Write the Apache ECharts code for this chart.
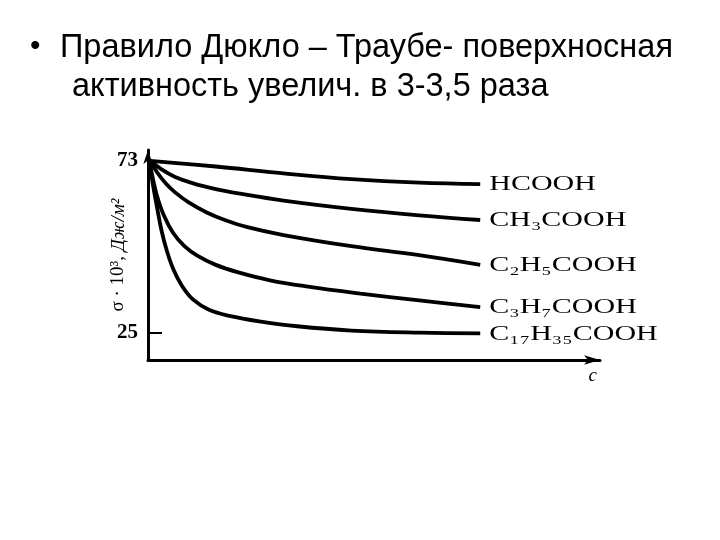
<!DOCTYPE html>
<html>
<head>
<meta charset="utf-8">
<script src="https://cdn.jsdelivr.net/npm/echarts@6/dist/echarts.min.js"></script>
<style>
html,body{margin:0;padding:0;background:#fff;}
#chart{width:720px;height:540px;}
</style>
</head>
<body>
<div id="chart"></div>
<script>
// ---- data ----
const titleLine1 = 'Правило Дюкло – Траубе- поверхносная';
const titleLine2 = 'активность увелич. в 3-3,5 раза';
const yAxisName = ['σ · 10³, ', 'Дж/м²'];
const xAxisName = 'c';
const seriesNames = ['HCOOH', 'CH₃COOH', 'C₂H₅COOH', 'C₃H₇COOH', 'C₁₇H₃₅COOH'];
const yTickLabels = [25, 73];
const yTickMarks = [25];
const hcooh = [[0.5,73],[15,71.4],[30,69.5],[45,67.9],[60,66.9],[73.5,66.5]];
const ch3cooh = [[0.5,73],[3,70.6],[6,68.5],[10,66.7],[15,65.1],[20,63.9],[30,61.9],[45,59.6],[60,57.8],[73.5,56.5]];
const c2h5cooh = [[0.5,73],[2,69.8],[4,66.6],[6,64.2],[9,61.4],[13,58.6],[17,56.5],[22,54.5],[30,52.3],[45,49.2],[60,46.7],[73.5,44.0]];
const c3h7cooh = [[0.3,73],[1,68.5],[2,63.2],[3.5,57.8],[5.5,53.0],[8,49.3],[11,46.5],[15,44.0],[20,41.9],[27,39.7],[35,38.0],[47,36.0],[60,34.1],[73.5,32.2]];
const c17h35cooh = [[0.3,73],[1,67],[2,60],[3,53.5],[4.2,47.8],[5.6,42.8],[7.5,38.2],[10,34.3],[13.5,31.5],[18,29.8],[25,28.2],[33,26.9],[45,25.7],[60,25.1],[73.5,24.9]];
const seriesData = [hcooh, ch3cooh, c2h5cooh, c3h7cooh, c17h35cooh];

const serif = "'Liberation Serif', 'DejaVu Serif', serif";
const sans = "'Liberation Sans', Arial, sans-serif";

const chart = echarts.init(document.getElementById('chart'));
const option = {
  animation: false,
  backgroundColor: '#fff',
  title: [
    {text: '•', left: 30, top: 32, padding: 0, textStyle: {fontFamily: sans, fontSize: 30, fontWeight: 'normal', color: '#000'}},
    {text: titleLine1, left: 60, top: 32, padding: 0, textStyle: {fontFamily: sans, fontSize: 32.5, fontWeight: 'normal', color: '#000'}},
    {text: titleLine2, left: 72, top: 71, padding: 0, textStyle: {fontFamily: sans, fontSize: 32.5, fontWeight: 'normal', color: '#000'}}
  ],
  grid: {left: 148, top: 150, right: 120, bottom: 180},
  xAxis: {
    type: 'value', min: 0, max: 100,
    axisLine: {show: true, symbol: ['none', 'arrow'], symbolSize: [7, 16], lineStyle: {color: '#000', width: 3}},
    axisTick: {show: false}, axisLabel: {show: false}, splitLine: {show: false},
    name: xAxisName, nameLocation: 'end', nameGap: -3,
    nameTextStyle: {fontFamily: serif, fontStyle: 'italic', fontSize: 19, color: '#000', verticalAlign: 'top', align: 'right', padding: [6, 0, 0, 0]}
  },
  yAxis: {
    type: 'value', min: 17.5, max: 76,
    axisLine: {show: true, symbol: ['none', 'arrow'], symbolSize: [7, 14], lineStyle: {color: '#000', width: 3}},
    axisTick: {show: true, inside: true, length: 14, customValues: yTickMarks, lineStyle: {color: '#000', width: 2}},
    axisLabel: {show: true, customValues: yTickLabels, margin: 10, fontFamily: serif, fontSize: 21, fontWeight: 'bold', color: '#000'},
    splitLine: {show: false},
    name: '{a|' + yAxisName[0] + '}{b|' + yAxisName[1] + '}',
    nameLocation: 'middle', nameRotate: 90, nameGap: 20, nameMoveOverlap: false,
    nameTextStyle: {
      color: '#000',
      rich: {
        a: {fontFamily: serif, fontSize: 19, color: '#000'},
        b: {fontFamily: serif, fontSize: 19, fontStyle: 'italic', color: '#000'}
      }
    }
  },
  series: seriesData.map((d, i) => ({
    name: seriesNames[i], type: 'line', data: d, smooth: 0.4,
    showSymbol: false, symbol: 'none',
    lineStyle: {color: '#000', width: 3.8}
  }))
};
chart.setOption(option);

// labels placed at each series' last point through the chart's scales
const labelGraphics = seriesData.map((d, i) => {
  const last = d[d.length - 1];
  const p = chart.convertToPixel({gridIndex: 0}, last);
  return {
    type: 'text', x: p[0] + 9, y: p[1] + 1, scaleX: 1.5, scaleY: 1,
    style: {text: seriesNames[i], fontFamily: serif, fontSize: 20, fill: '#000', textAlign: 'left', textVerticalAlign: 'middle'}
  };
});
chart.setOption({graphic: labelGraphics});
</script>
</body>
</html>
